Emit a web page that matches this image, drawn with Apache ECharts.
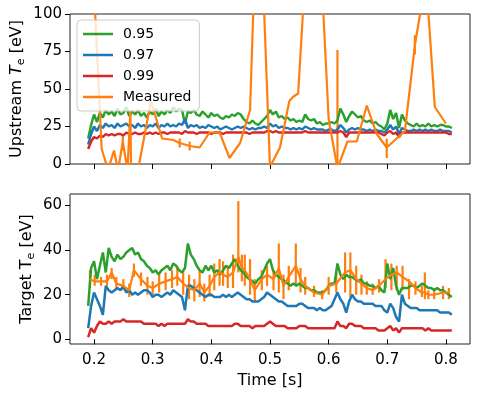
<!DOCTYPE html>
<html>
<head>
<meta charset="utf-8">
<script src="https://cdn.jsdelivr.net/npm/echarts@6/dist/echarts.min.js"></script>
<style>
  html, body { margin: 0; padding: 0; background: #fff; }
  #chart { width: 479px; height: 399px; }
</style>
</head>
<body>
<div id="chart"></div>
<script>
// time base for the model curves [s]
const times = [
  0.190, 0.195, 0.200, 0.205, 0.210, 0.215, 0.220, 0.225, 0.230, 0.235,
  0.240, 0.245, 0.250, 0.255, 0.260, 0.265, 0.270, 0.275, 0.280, 0.285,
  0.290, 0.295, 0.300, 0.305, 0.310, 0.315, 0.320, 0.325, 0.330, 0.335,
  0.340, 0.345, 0.350, 0.355, 0.360, 0.365, 0.370, 0.375, 0.380, 0.385,
  0.390, 0.395, 0.400, 0.405, 0.410, 0.415, 0.420, 0.425, 0.430, 0.435,
  0.440, 0.445, 0.450, 0.455, 0.460, 0.465, 0.470, 0.475, 0.480, 0.485,
  0.490, 0.495, 0.500, 0.505, 0.510, 0.515, 0.520, 0.525, 0.530, 0.535,
  0.540, 0.545, 0.550, 0.555, 0.560, 0.565, 0.570, 0.575, 0.580, 0.585,
  0.590, 0.595, 0.600, 0.605, 0.610, 0.615, 0.620, 0.625, 0.630, 0.635,
  0.640, 0.645, 0.650, 0.655, 0.660, 0.665, 0.670, 0.675, 0.680, 0.685,
  0.690, 0.695, 0.700, 0.705, 0.710, 0.715, 0.720, 0.725, 0.730, 0.735,
  0.740, 0.745, 0.750, 0.755, 0.760, 0.765, 0.770, 0.775, 0.780, 0.785,
  0.790, 0.795, 0.800, 0.805, 0.810
];

// upstream Te [eV]
const upstream095 = [
  17, 26, 33, 28, 34, 31, 36, 33, 35, 32,
  37, 33, 34, 38, 32, 35, 33, 36, 32, 34,
  31, 35, 33, 37, 32, 35, 33, 36, 34, 38,
  35, 37, 36, 27, 35, 34, 36, 33, 32, 35,
  33, 31, 34, 32, 33, 31, 30, 32, 31, 33,
  32, 34, 33, 30, 28, 27, 29, 27, 26, 28,
  30, 32, 36, 33, 35, 31, 32, 30, 31, 29,
  30, 28, 29, 28, 33, 30, 29, 30, 27, 28,
  26, 27, 27, 28, 27, 29, 37, 33, 28, 32,
  35, 33, 31, 32, 29, 28, 29, 27, 28, 26,
  25, 23, 27, 36, 30, 34, 24, 33, 29, 27,
  26, 25, 27, 25, 26, 25, 27, 25, 26, 25,
  26, 26, 25, 25, 24
];
const upstream097 = [
  13, 20, 25, 22, 26, 24, 27, 25, 26, 24,
  27, 25, 26, 27, 25, 26, 24, 27, 25, 26,
  24, 26, 25, 27, 24, 26, 25, 27, 25, 26,
  25, 27, 26, 30, 24, 26, 25, 26, 24, 25,
  24, 26, 25, 24, 25, 23, 24, 25, 24, 23,
  24, 25, 24, 25, 24, 23, 24, 23, 24, 24,
  25, 24, 27, 25, 26, 24, 25, 24, 24, 23,
  24, 23, 24, 23, 25, 24, 23, 24, 23, 23,
  23, 22, 23, 23, 22, 23, 26, 24, 21, 23,
  24, 23, 24, 23, 23, 22, 23, 22, 23, 22,
  22, 21, 23, 26, 23, 25, 20, 24, 23, 22,
  22, 23, 22, 23, 22, 23, 22, 23, 22, 22,
  23, 22, 22, 22, 21
];
const upstream099 = [
  10, 15, 18, 17, 19, 18, 20, 19, 20, 19,
  20, 20, 19, 21, 20, 20, 21, 20, 20, 21,
  20, 21, 20, 21, 20, 21, 21, 20, 21, 21,
  21, 21, 20, 22, 21, 21, 21, 20, 21, 21,
  21, 21, 20, 21, 21, 21, 20, 21, 21, 21,
  21, 21, 21, 21, 21, 20, 21, 21, 21, 21,
  21, 22, 22, 21, 22, 21, 21, 21, 21, 21,
  21, 21, 21, 21, 22, 21, 21, 21, 21, 21,
  21, 21, 21, 21, 21, 21, 22, 21, 18, 21,
  21, 21, 21, 21, 21, 21, 21, 21, 21, 21,
  20, 19, 21, 22, 20, 21, 18, 21, 21, 21,
  21, 21, 21, 21, 21, 21, 21, 21, 21, 21,
  21, 21, 21, 20, 20
];
const upstreamMeasT = [
  0.197, 0.213, 0.224, 0.234, 0.241, 0.249, 0.257, 0.262, 0.263, 0.275,
  0.297, 0.316, 0.335, 0.346, 0.363, 0.380, 0.397, 0.414, 0.431, 0.449,
  0.466, 0.480, 0.500, 0.517, 0.533, 0.540, 0.548, 0.575, 0.600, 0.615,
  0.632, 0.648, 0.665, 0.682, 0.699, 0.730, 0.747, 0.766, 0.781, 0.800
];
const upstreamMeasV = [
  140, 10, -4, 9, -4, 15, -4, 36, -4, -4,
  42, 17, 16, 14, 12, 11, 21, 21, 4, 14,
  36, 205, -2, 11, 42, 45, 47, 225, 30, -3,
  15, 15, 39, 20, 11, 22, 79, 124, 38, 27
];
// vertical error bars: [t, low, high]
const upstreamBars = [
  [0.249, 9, 20], [0.346, 11, 17], [0.363, 9, 15],
  [0.615, -3, 76], [0.699, 4, 17], [0.747, 73, 86]
];

// target Te [eV]
const target095 = [
  15, 32, 35, 27, 33, 39, 30, 41, 37, 35,
  38, 36, 37, 39, 40, 41, 38, 39, 36, 35,
  33, 32, 30, 31, 29, 31, 32, 33, 31, 34,
  33, 31, 30, 32, 43, 38, 36, 33, 31, 30,
  33, 31, 33, 30, 31, 29, 31, 33, 32, 34,
  36, 33, 31, 30, 28, 27, 26, 25, 27, 28,
  31, 34, 36, 31, 29, 28, 27, 26, 25, 24,
  25, 24, 25, 24, 23, 23, 22, 22, 21, 21,
  21, 22, 24, 25, 25, 34, 29, 27, 29, 28,
  28, 27, 26, 27, 25, 25, 24, 24, 23, 24,
  22, 21, 34, 27, 32, 24, 20, 23, 23, 23,
  24, 24, 23, 24, 25, 24, 23, 23, 22, 23,
  22, 22, 21, 20, 19
];
const target097 = [
  5, 15, 21, 18, 15, 11, 24, 22, 21, 22,
  23, 22, 24, 21, 22, 20, 21, 20, 21, 22,
  22, 21, 19, 20, 20, 19, 20, 21, 20, 22,
  21, 20, 19, 13, 24, 24, 23, 22, 21, 20,
  19, 20, 20, 19, 19, 19, 20, 19, 20, 19,
  20, 21, 20, 19, 18, 18, 17, 17, 17, 18,
  19, 21, 20, 19, 18, 17, 17, 16, 15, 15,
  15, 15, 16, 16, 15, 14, 14, 14, 13, 14,
  13, 13, 14, 15, 18, 21, 18, 16, 12, 17,
  20, 18, 17, 17, 16, 16, 16, 16, 15, 15,
  15, 13, 12, 16, 14, 10, 8, 20, 16, 15,
  14, 14, 14, 13, 13, 13, 13, 13, 13, 13,
  12, 12, 12, 12, 11
];
const target099 = [
  1, 5, 3, 6, 8, 7, 7, 8, 7, 8,
  8, 8, 9, 8, 8, 8, 8, 8, 8, 7,
  7, 7, 7, 7, 6, 7, 6, 7, 7, 7,
  7, 7, 7, 7, 9, 8, 8, 7, 7, 7,
  7, 6, 6, 6, 6, 6, 6, 6, 6, 6,
  7, 7, 6, 6, 6, 6, 5, 6, 6, 6,
  6, 7, 8, 7, 6, 6, 6, 6, 5, 5,
  5, 5, 6, 6, 6, 5, 5, 5, 5, 5,
  5, 5, 5, 5, 5, 8, 6, 6, 5, 7,
  7, 6, 6, 6, 5, 5, 5, 5, 5, 4,
  4, 4, 5, 6, 4, 5, 3, 5, 5, 5,
  5, 5, 5, 5, 5, 4, 5, 4, 4, 4,
  4, 4, 4, 4, 4
];
const targetMeasT = [
  0.193, 0.201, 0.212, 0.222, 0.230, 0.238, 0.250, 0.260, 0.268, 0.280,
  0.291, 0.300, 0.311, 0.322, 0.333, 0.342, 0.352, 0.362, 0.371, 0.380,
  0.388, 0.397, 0.405, 0.414, 0.420, 0.428, 0.437, 0.446, 0.452, 0.457,
  0.466, 0.474, 0.486, 0.495, 0.506, 0.515, 0.523, 0.532, 0.544, 0.552,
  0.560, 0.575, 0.589, 0.600, 0.613, 0.628, 0.637, 0.647, 0.656, 0.665,
  0.675, 0.686, 0.697, 0.707, 0.716, 0.726, 0.737, 0.748, 0.759, 0.764,
  0.770, 0.780, 0.795, 0.805
];
const targetMeasV = [
  27, 26, 26, 26, 30, 25, 24, 22, 31, 27,
  24, 23, 25, 26, 27, 28, 25, 23, 22, 25,
  21, 24, 28, 30, 29, 28, 30, 37, 32, 31,
  27, 22, 27, 29, 27, 32, 24, 28, 33, 27,
  24, 21, 20, 24, 25, 30, 31, 27, 25, 23,
  22, 24, 27, 29, 30, 28, 26, 23, 21, 21,
  20, 20, 21, 21
];
const targetMeasLo = [
  23, 24, 24, 24, 27, 22, 22, 19, 28, 24,
  20, 20, 21, 22, 23, 24, 20, 18, 17, 19,
  17, 19, 22, 24, 24, 23, 23, 30, 26, 24,
  20, 17, 22, 24, 22, 21, 18, 22, 24, 21,
  20, 19, 18, 20, 21, 21, 19, 20, 20, 20,
  20, 21, 23, 22, 22, 22, 18, 20, 19, 18,
  18, 18, 18, 18
];
const targetMeasHi = [
  31, 29, 28, 29, 32, 28, 27, 25, 34, 30,
  28, 26, 29, 30, 31, 32, 30, 29, 27, 31,
  25, 29, 34, 36, 35, 33, 38, 62, 38, 38,
  36, 27, 31, 33, 31, 43, 29, 33, 43, 32,
  28, 24, 22, 28, 30, 39, 39, 33, 29, 26,
  25, 27, 36, 34, 33, 33, 27, 26, 24, 30,
  22, 23, 24, 23
];

// tick labels
const xTicks = [0.2, 0.3, 0.4, 0.5, 0.6, 0.7, 0.8];
const upstreamTicks = [0, 25, 50, 75, 100];
const targetTicks = [0, 20, 40, 60];

const seriesNames = ['0.95', '0.97', '0.99', 'Measured'];
const colors = ['#2ca02c', '#1f77b4', '#d62728', '#ff7f0e'];

const FONT = 'DejaVu Sans';

const pairs = (xs, ys) => xs.map((x, i) => [x, ys[i]]);

function lineSeries(name, color, data, idx, width) {
  return {
    name: name,
    type: 'line',
    xAxisIndex: idx,
    yAxisIndex: idx,
    data: data,
    showSymbol: false,
    symbol: 'none',
    clip: true,
    lineStyle: { color: color, width: width || 2.5 },
    itemStyle: { color: color },
    emphasis: { disabled: true },
    animation: false,
  };
}

function errorBars(data, idx) {
  return {
    type: 'custom',
    xAxisIndex: idx,
    yAxisIndex: idx,
    data: data,
    clip: true,
    encode: { x: 0, y: [1, 2] },
    renderItem: (params, api) => {
      const p1 = api.coord([api.value(0), api.value(1)]);
      const p2 = api.coord([api.value(0), api.value(2)]);
      return {
        type: 'line',
        shape: { x1: p1[0], y1: p1[1], x2: p2[0], y2: p2[1] },
        style: { stroke: colors[3], lineWidth: 2.2 },
      };
    },
    animation: false,
  };
}

const axisText = { fontFamily: FONT, fontSize: 15, color: '#000' };
const nameRich = {
  n: { fontFamily: FONT, fontSize: 16, color: '#000', lineHeight: 20 },
  i: { fontFamily: FONT, fontSize: 16, color: '#000', lineHeight: 20, fontStyle: 'italic' },
  s: { fontFamily: FONT, fontSize: 11, color: '#000', lineHeight: 9, verticalAlign: 'bottom' },
};

function xAxis(idx, withLabels) {
  return {
    type: 'value',
    gridIndex: idx,
    min: 0.159,
    max: 0.841,
    splitLine: { show: false },
    axisLine: { show: false },
    axisTick: { show: true, length: 5, customValues: xTicks, lineStyle: { color: '#000', width: 1 } },
    axisLabel: {
      show: withLabels,
      customValues: xTicks,
      margin: 9,
      formatter: v => v.toFixed(1),
      ...axisText,
    },
    name: withLabels ? 'Time [s]' : '',
    nameLocation: 'middle',
    nameGap: 29,
    nameMoveOverlap: false,
    nameTextStyle: { fontFamily: FONT, fontSize: 16, color: '#000' },
  };
}

const option = {
  backgroundColor: '#fff',
  animation: false,
  color: colors,
  grid: [
    { left: 70, top: 14, width: 400, height: 150, show: true, borderColor: '#222', borderWidth: 1, backgroundColor: '#fff' },
    { left: 70, top: 194, width: 400, height: 150, show: true, borderColor: '#222', borderWidth: 1, backgroundColor: '#fff' },
  ],
  legend: {
    data: seriesNames.map((n, i) => ({ name: n, itemStyle: { color: colors[i] } })),
    orient: 'vertical',
    left: 77,
    top: 20,
    icon: 'rect',
    itemWidth: 30,
    itemHeight: 2.5,
    itemGap: 5,
    padding: [6, 8, 6, 6],
    backgroundColor: 'rgba(255,255,255,0.8)',
    borderColor: '#ccc',
    borderWidth: 1,
    borderRadius: 4,
    textStyle: { fontFamily: FONT, fontSize: 14, color: '#000', lineHeight: 16, padding: [0, 0, 0, 5] },
    selectedMode: false,
  },
  xAxis: [xAxis(0, false), xAxis(1, true)],
  yAxis: [
    {
      type: 'value',
      gridIndex: 0,
      min: 0,
      max: 100,
      interval: 25,
      splitLine: { show: false },
      axisLine: { show: false },
      axisTick: { show: true, length: 5, customValues: upstreamTicks, lineStyle: { color: '#000', width: 1 } },
      axisLabel: { margin: 8, customValues: upstreamTicks, ...axisText },
      name: '{n|Upstream }{i|T}{s|e}{n| [eV]}',
      nameLocation: 'middle',
      nameGap: 43,
      nameMoveOverlap: false,
      nameTextStyle: { rich: nameRich },
    },
    {
      type: 'value',
      gridIndex: 1,
      min: -2.1,
      max: 65.2,
      splitLine: { show: false },
      axisLine: { show: false },
      axisTick: { show: true, length: 5, customValues: targetTicks, lineStyle: { color: '#000', width: 1 } },
      axisLabel: { margin: 8, customValues: targetTicks, ...axisText },
      name: '{n|Target }{n|T}{s|e}{n| [eV]}',
      nameLocation: 'middle',
      nameGap: 33,
      nameMoveOverlap: false,
      nameTextStyle: { rich: nameRich },
    },
  ],
  series: [
    lineSeries('0.95', colors[0], pairs(times, upstream095), 0),
    lineSeries('0.97', colors[1], pairs(times, upstream097), 0),
    lineSeries('0.99', colors[2], pairs(times, upstream099), 0),
    lineSeries('Measured', colors[3], pairs(upstreamMeasT, upstreamMeasV), 0, 2.2),
    errorBars(upstreamBars, 0),
    lineSeries('0.95', colors[0], pairs(times, target095), 1),
    lineSeries('0.97', colors[1], pairs(times, target097), 1),
    lineSeries('0.99', colors[2], pairs(times, target099), 1),
    lineSeries('Measured', colors[3], pairs(targetMeasT, targetMeasV), 1, 2.2),
    errorBars(targetMeasT.map((t, i) => [t, targetMeasLo[i], targetMeasHi[i]]), 1),
  ],
};

const chart = echarts.init(document.getElementById('chart'), null, { renderer: 'canvas' });
chart.setOption(option);
window.addEventListener('resize', () => chart.resize());
</script>
</body>
</html>
